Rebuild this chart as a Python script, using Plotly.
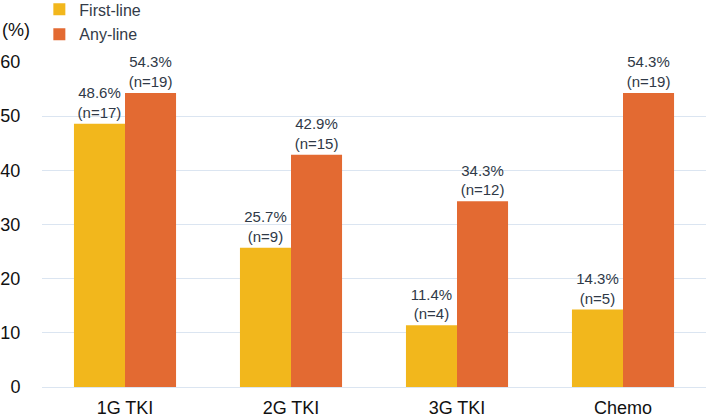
import plotly.graph_objects as go

categories = ["1G TKI", "2G TKI", "3G TKI", "Chemo"]
first_line = [48.6, 25.7, 11.4, 14.3]
first_n = [17, 9, 4, 5]
any_line = [54.3, 42.9, 34.3, 54.3]
any_n = [19, 15, 12, 19]
y_ticks = [0, 10, 20, 30, 40, 50, 60]

def labels(vals, ns):
    return [f"{v:.1f}%<br>(n={n})" for v, n in zip(vals, ns)]

fig = go.Figure()
fig.add_trace(go.Bar(
    x=categories, y=first_line, name="First-line", legendgroup="a",
    marker=dict(color="#f2b71c", line=dict(width=0)),
    text=labels(first_line, first_n), textposition="outside",
    textfont=dict(size=15, color="#2f3947"), cliponaxis=False,
))
fig.add_trace(go.Bar(
    x=categories, y=any_line, name="Any-line", legendgroup="b",
    marker=dict(color="#e36a32", line=dict(width=0)),
    text=labels(any_line, any_n), textposition="outside",
    textfont=dict(size=15, color="#2f3947"), cliponaxis=False,
))

fig.update_layout(
    width=709, height=419,
    margin=dict(l=42, r=3, t=62, b=32, autoexpand=False),
    paper_bgcolor="white", plot_bgcolor="white",
    font=dict(family="Liberation Sans, Arial, sans-serif", size=18, color="#111111"),
    barmode="group", bargap=0.385, bargroupgap=0,
    showlegend=True,
    legend=dict(x=-0.004, y=1.214, xanchor="left", yanchor="top",
                font=dict(size=16, color="#333b48"), bgcolor="rgba(0,0,0,0)",
                tracegroupgap=1, itemwidth=30),
    annotations=[dict(text="(%)", xref="paper", yref="paper", x=-0.063, y=1.098,
                      xanchor="left", yanchor="middle", showarrow=False,
                      font=dict(size=18, color="#111111"))],
)
fig.update_xaxes(showgrid=False, showline=False, ticks="outside", ticklen=4,
                 tickcolor="rgba(0,0,0,0)", tickfont=dict(size=18, color="#111111"))
fig.update_yaxes(range=[0, 60], tickvals=y_ticks, showgrid=True, gridcolor="#dbe5f1", gridwidth=1,
                 zeroline=True, zerolinecolor="#dbe5f1", zerolinewidth=1,
                 ticks="outside", ticklen=17, tickcolor="rgba(0,0,0,0)",
                 tickfont=dict(size=18, color="#111111"))

fig.write_html("out.html")
